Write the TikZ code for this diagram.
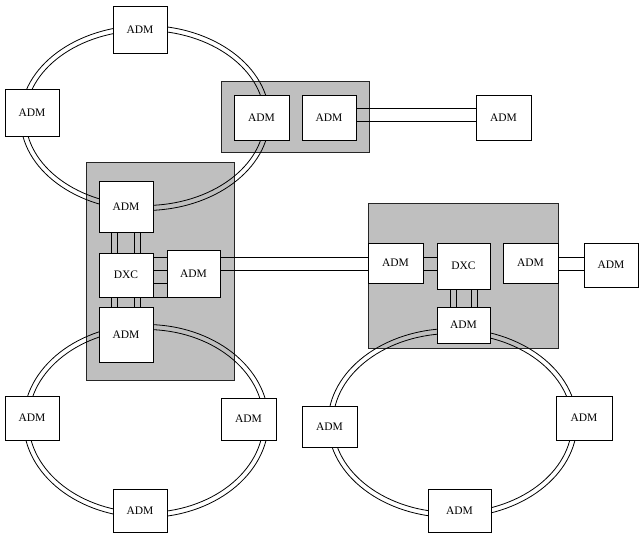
\documentclass[tikz,border=0pt]{standalone}
\usepackage{fontspec}
\setmainfont{Liberation Serif}
\usetikzlibrary{positioning}
\pgfdeclarelayer{back}
\pgfsetlayers{back,main}

\begin{document}
\begin{tikzpicture}[
    x=1pt, y=-1pt,
    box/.style = {draw, fill=white, line width=0.9pt, inner sep=0pt, font=\fontsize{11.5}{13}\selectfont},
    panel/.style = {draw=black!85, fill=black!25, line width=0.9pt, inner sep=0pt},
    ring/.style = {line width=0.8pt},
    link/.style = {line width=0.8pt}
  ]
  \useasboundingbox (0,0) rectangle (641,551);

  \node[box, minimum width=54pt, minimum height=47pt] (ringA top) at (140,29.5) {ADM};
  \node[box, minimum width=54pt, minimum height=47pt] (ringA left) at (32,112.5) {ADM};
  \node[box, minimum width=55pt, minimum height=45pt] (tie1) at (261.5,117.5) {ADM};
  \node[box, minimum width=54pt, minimum height=45pt] (tie2) at (329,117.5) {ADM};
  \node[box, minimum width=55pt, minimum height=45pt] (far1) at (503.5,117.5) {ADM};

  \node[box, minimum width=54pt, minimum height=51pt] (hubA top) at (126,206.5) {ADM};
  \node[box, minimum width=54pt, minimum height=44pt] (dxcA) at (126,275) {DXC};
  \node[box, minimum width=53pt, minimum height=47pt] (hubA side) at (193.5,273.5) {ADM};
  \node[box, minimum width=54pt, minimum height=55pt] (hubA bottom) at (126,334.5) {ADM};

  \node[box, minimum width=55pt, minimum height=40pt] (hubB left) at (395.5,263) {ADM};
  \node[box, minimum width=53pt, minimum height=46pt] (dxcB) at (463.5,266) {DXC};
  \node[box, minimum width=55pt, minimum height=40pt] (hubB right) at (530.5,263) {ADM};
  \node[box, minimum width=54pt, minimum height=44pt] (far2) at (611,265) {ADM};
  \node[box, minimum width=53pt, minimum height=36pt] (hubB bottom) at (463.5,325) {ADM};

  \node[box, minimum width=54pt, minimum height=44pt] (ringC left) at (32,418) {ADM};
  \node[box, minimum width=55pt, minimum height=42pt] (ringC right) at (248.5,419) {ADM};
  \node[box, minimum width=54pt, minimum height=43pt] (ringC bottom) at (140,510.5) {ADM};

  \node[box, minimum width=55pt, minimum height=41pt] (ringD left) at (329.5,426.5) {ADM};
  \node[box, minimum width=56pt, minimum height=44pt] (ringD right) at (584,418) {ADM};
  \node[box, minimum width=63pt, minimum height=43pt] (ringD bottom) at (459.5,510.5) {ADM};

  \begin{pgfonlayer}{back}
    \node[panel, minimum width=148pt, minimum height=71pt] (site1) at (295,116.5) {};
    \node[panel, minimum width=148pt, minimum height=218pt] (siteA) at (160,271) {};
    \node[panel, minimum width=190pt, minimum height=145pt] (siteB) at (463,275.5) {};
    \coordinate (ringA) at (145,118);
    \coordinate (ringC) at (146,421);
    \coordinate (ringD) at (452.5,423);
    \foreach \d in {-2.5,2.5} {
      \draw[ring] (ringA) ellipse [x radius=122pt+\d pt, y radius=90pt+\d pt];
      \draw[ring] (ringC) ellipse [x radius=120pt+\d pt, y radius=94pt+\d pt];
      \draw[ring] (ringD) ellipse [x radius=122pt+\d pt, y radius=92pt+\d pt];
    }
  \end{pgfonlayer}

  \foreach \s in {9.5,-3.5}
    \draw[link] ([yshift=\s pt]tie2.east) -- ([yshift=\s pt]tie2.east -| far1.west);
  \foreach \s in {-14.5,-8.5,8.5,14.5} {
    \draw[link] ([xshift=\s pt]hubA top.south) -- ([xshift=\s pt]dxcA.north);
    \draw[link] ([xshift=\s pt]dxcA.south) -- ([xshift=\s pt]hubA bottom.north);
  }
  \foreach \s in {18,5,-8,-22}
    \draw[link] ([yshift=\s pt]dxcA.east) -- ([yshift=\s pt]dxcA.east -| hubA side.west);
  \foreach \s in {16.5,3.5}
    \draw[link] ([yshift=\s pt]hubA side.east) -- ([yshift=\s pt]hubA side.east -| hubB left.west);
  \foreach \s in {6,-7} {
    \draw[link] ([yshift=\s pt]hubB left.east) -- ([yshift=\s pt]hubB left.east -| dxcB.west);
    \draw[link] ([yshift=\s pt]hubB right.east) -- ([yshift=\s pt]hubB right.east -| far2.west);
  }
  \foreach \s in {-13.5,-7.5,7.5,13.5}
    \draw[link] ([xshift=\s pt]dxcB.south) -- ([xshift=\s pt]hubB bottom.north);
\end{tikzpicture}
\end{document}
